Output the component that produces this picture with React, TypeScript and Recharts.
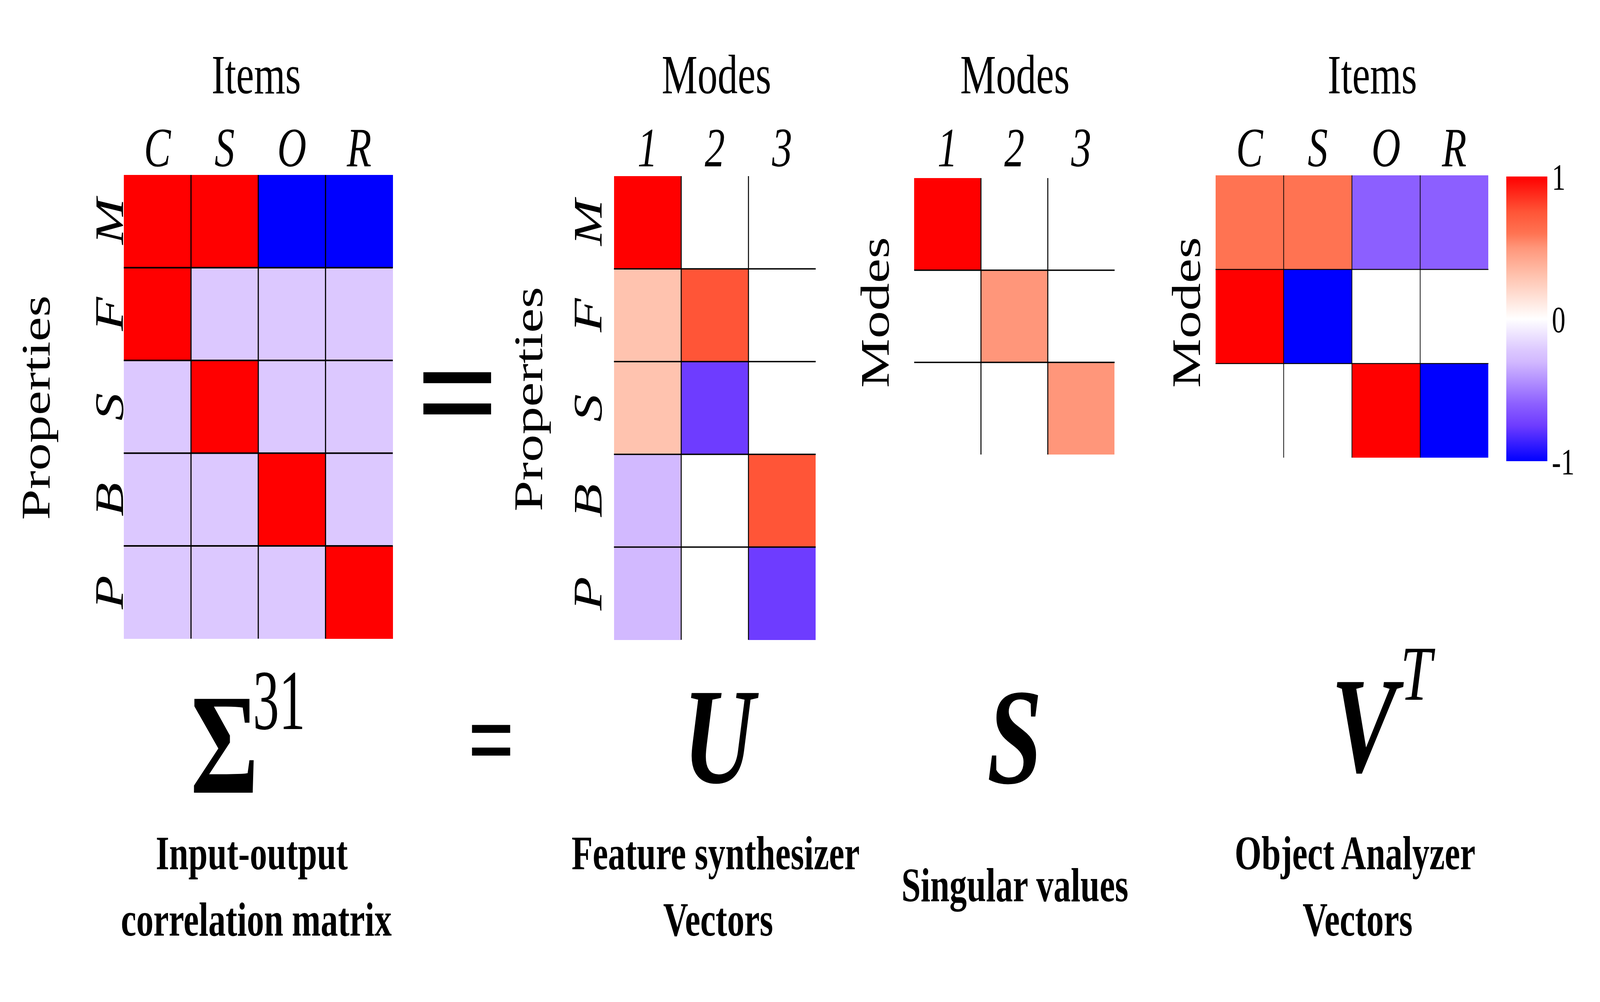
import React from 'react';
import { ScatterChart, Scatter, XAxis, YAxis, BarChart, Bar } from 'recharts';

const FONT = '"Liberation Serif", "Times New Roman", serif';
const W = 5650;
const H = 2566;

// labels
const items = ['C', 'S', 'O', 'R'];
const properties = ['M', 'F', 'S', 'B', 'P'];
const modes = ['1', '2', '3'];

// matrices, rows top to bottom
const sigmaValues = [
  [1, 1, -1, -1],
  [1, -0.22, -0.22, -0.22],
  [-0.22, 1, -0.22, -0.22],
  [-0.22, -0.22, 1, -0.22],
  [-0.22, -0.22, -0.22, 1],
];
const uValues = [
  [1, 0, 0],
  [0.3, 0.75, 0],
  [0.3, -0.75, 0],
  [-0.3, 0, 0.75],
  [-0.3, 0, -0.75],
];
const sValues = [
  [1, 0, 0],
  [0, 0.5, 0],
  [0, 0, 0.5],
];
const vtValues = [
  [0.6, 0.6, -0.6, -0.6],
  [1, -1, 0, 0],
  [0, 0, 1, -1],
];

const colorbarTicks = [-1, 0, 1];
const colorbarData = [{ name: 'scale', range: [-1, 1] }];

// colour scale sampled from the colour bar
const cmapStops = [-1, -0.75, -0.6, -0.3, -0.22, 0, 0.3, 0.5, 0.6, 0.75, 1];
const cmapColors = ['#0000FF', '#6E3CFF', '#8C5FFF', '#D2B9FF', '#DCC8FF', '#FFFFFF', '#FFC3AF', '#FF967A', '#FF7352', '#FF5537', '#FF0000'];

const hex = (c: string) => [1, 3, 5].map(i => parseInt(c.slice(i, i + 2), 16));

function colorOf(v: number) {
  for (let i = 0; i < cmapStops.length - 1; i++) {
    const a = cmapStops[i], b = cmapStops[i + 1];
    if (v >= a && v <= b) {
      const t = (v - a) / (b - a);
      const ca = hex(cmapColors[i]), cb = hex(cmapColors[i + 1]);
      const m = ca.map((x, k) => Math.round(x + (cb[k] - x) * t));
      return `rgb(${m[0]},${m[1]},${m[2]})`;
    }
  }
  return v < 0 ? cmapColors[0] : cmapColors[cmapColors.length - 1];
}

interface HeatProps {
  values: number[][];
  colLabels: string[];
  rowLabels?: string[];
  left: number;
  top: number;
  cell: number;
  lineW: number;
  rowGap?: number;
}

const LABEL_BASE = 426;

function Heatmap({ values, colLabels, rowLabels, left, top, cell, lineW, rowGap = 0 }: HeatProps) {
  const nR = values.length;
  const nC = colLabels.length;
  const plotW = cell * nC;
  const plotH = cell * nR;
  const axisTop = 300;
  const axisLeft = rowLabels ? 250 : 0;
  const pad = 10;
  const data = values.flatMap((r, i) => r.map((v, j) => ({ x: j + 0.5, y: i + 0.5, v, r: i, c: j })));
  const colTicks = colLabels.map((_, j) => j + 0.5);
  const rowTicks = values.map((_, i) => i + 0.5);

  const RowTick = (p: any) => {
    const { x, y, payload } = p;
    return (
      <text x={x} y={y} transform={`rotate(-90, ${x}, ${y})`} textAnchor="middle"
        fontStyle="italic" fontSize={142} fontFamily={FONT} fill="#000">
        {rowLabels ? rowLabels[Math.floor(payload.value)] : ''}
      </text>
    );
  };

  return (
    <div style={{ position: 'absolute', left: left - axisLeft, top: top - axisTop }}>
      <ScatterChart width={axisLeft + plotW + pad} height={axisTop + plotH + pad}
        margin={{ top: 0, right: pad, bottom: pad, left: 0 }}>
        <XAxis type="number" dataKey="x" orientation="top" height={axisTop} domain={[0, nC]}
          ticks={colTicks} interval={0} tickFormatter={(t: number) => colLabels[Math.floor(t)]}
          axisLine={false} tickLine={false} tickSize={0} tickMargin={top - LABEL_BASE}
          tick={{ fontSize: 142, fontStyle: 'italic', fill: '#000', fontFamily: FONT }} />
        <YAxis type="number" dataKey="y" reversed domain={[0, nR]} ticks={rowTicks} interval={0}
          hide={!rowLabels} width={axisLeft} axisLine={false} tickLine={false} tickSize={0}
          tickMargin={rowGap} tick={<RowTick />} />
        <Scatter data={data} isAnimationActive={false}
          shape={(p: any) => (
            <rect x={p.cx - cell / 2} y={p.cy - cell / 2} width={cell} height={cell}
              fill={colorOf(p.payload.v)} shapeRendering="crispEdges" />
          )} />
        {/* cell borders on the inner edges only, drawn over the cells */}
        <Scatter data={data} isAnimationActive={false}
          shape={(p: any) => {
            const x0 = p.cx - cell / 2, y0 = p.cy - cell / 2;
            return (
              <g>
                {p.payload.c > 0 && (
                  <line x1={x0} y1={y0} x2={x0} y2={y0 + cell} stroke="#000" strokeWidth={lineW} />
                )}
                {p.payload.r > 0 && (
                  <line x1={x0} y1={y0} x2={x0 + cell} y2={y0} stroke="#000" strokeWidth={lineW} />
                )}
              </g>
            );
          }} />
      </ScatterChart>
    </div>
  );
}

function ColorBar() {
  const left = 5319, top = 452, w = 145, h = 729, m = 80;
  return (
    <div style={{ position: 'absolute', left, top: top - m }}>
      <BarChart width={w + 160} height={h + 2 * m} data={colorbarData} barCategoryGap={0}
        margin={{ top: m, right: 0, bottom: m, left: 0 }}>
        <defs>
          <linearGradient id="cbGrad" x1="0" y1="0" x2="0" y2="1">
            {cmapStops.map((s, i) => (
              <stop key={i} offset={`${((1 - s) / 2) * 100}%`} stopColor={cmapColors[i]} />
            )).reverse()}
          </linearGradient>
        </defs>
        <XAxis dataKey="name" hide />
        <YAxis orientation="right" domain={[-1, 1]} ticks={colorbarTicks} width={160}
          axisLine={false} tickLine={false} tickSize={0} tickMargin={16}
          tick={{ fontSize: 96, fill: '#000', fontFamily: FONT }} />
        <Bar dataKey="range" fill="url(#cbGrad)" isAnimationActive={false} />
      </BarChart>
    </div>
  );
}

const T = (props: any) => <text fontFamily={FONT} fill="#000" {...props} />;

export default function App() {
  // the window may be narrower than asked for; fit the figure to the real viewport
  const vw = typeof document !== 'undefined' ? document.documentElement.clientWidth || window.innerWidth : W;
  const vh = typeof window !== 'undefined' ? window.innerHeight || H : H;
  const sx = Math.min(1, vw / W);
  const sy = Math.min(1, vh / H);

  return (
    <div style={{ position: 'absolute', left: 0, top: 0, width: W * sx, height: H * sy, overflow: 'hidden', background: '#fff' }}>
      <div style={{ position: 'absolute', left: 0, top: 0, width: W, height: H, background: '#fff', fontFamily: FONT, transform: `scale(${sx}, ${sy})`, transformOrigin: '0 0' }}>
        <Heatmap values={sigmaValues} colLabels={items} rowLabels={properties} left={437} top={448} cell={237.5} lineW={4} rowGap={2} />
        <Heatmap values={uValues} colLabels={modes} rowLabels={properties} left={2168} top={451} cell={237.5} lineW={3.5} rowGap={44} />
        <Heatmap values={sValues} colLabels={modes} left={3228} top={456} cell={236} lineW={3.5} />
        <Heatmap values={vtValues} colLabels={items} left={4292} top={449} cell={241} lineW={2.5} />
        <ColorBar />

        <svg width={W} height={H} style={{ position: 'absolute', left: 0, top: 0, pointerEvents: 'none' }}>
          {/* axis titles */}
          <T x={905} y={239} fontSize={142} textAnchor="middle">Items</T>
          <T x={2530} y={239} fontSize={142} textAnchor="middle">Modes</T>
          <T x={3584} y={239} fontSize={142} textAnchor="middle">Modes</T>
          <T x={4846} y={239} fontSize={142} textAnchor="middle">Items</T>
          <T x={175} y={1044} fontSize={142} textAnchor="middle" transform="rotate(-90, 175, 1044)">Properties</T>
          <T x={1915} y={1022} fontSize={142} textAnchor="middle" transform="rotate(-90, 1915, 1022)">Properties</T>
          <T x={3138} y={800} fontSize={142} textAnchor="middle" transform="rotate(-90, 3138, 800)">Modes</T>
          <T x={4237} y={800} fontSize={142} textAnchor="middle" transform="rotate(-90, 4237, 800)">Modes</T>

          {/* equals between matrices */}
          <T x={1616} y={1140} fontSize={400} fontWeight="bold" textAnchor="middle" textLength={293} lengthAdjust="spacingAndGlyphs">=</T>

          {/* formula row */}
          <T x={673} y={2030} fontSize={367} fontWeight="bold">Σ</T>
          <T x={893} y={1867} fontSize={218} textLength={185} lengthAdjust="spacingAndGlyphs">31</T>
          <T x={1735} y={1992} fontSize={290} fontWeight="bold" textAnchor="middle">=</T>
          <T x={2538} y={2004} fontSize={350} fontWeight="bold" fontStyle="italic" textAnchor="middle">U</T>
          <T x={3583} y={2005} fontSize={350} fontWeight="bold" fontStyle="italic" textAnchor="middle">S</T>
          <T x={4700} y={1976} fontSize={350} fontWeight="bold" fontStyle="italic">V</T>
          <T x={4945} y={1792} fontSize={200} fontStyle="italic">T</T>

          {/* captions */}
          <T x={889} y={2226} fontSize={122} fontWeight="bold" textAnchor="middle">Input-output</T>
          <T x={905} y={2396} fontSize={122} fontWeight="bold" textAnchor="middle">correlation matrix</T>
          <T x={2527} y={2226} fontSize={122} fontWeight="bold" textAnchor="middle">Feature synthesizer</T>
          <T x={2536} y={2396} fontSize={122} fontWeight="bold" textAnchor="middle">Vectors</T>
          <T x={3584} y={2308} fontSize={122} fontWeight="bold" textAnchor="middle">Singular values</T>
          <T x={4785} y={2226} fontSize={122} fontWeight="bold" textAnchor="middle">Object Analyzer</T>
          <T x={4794} y={2396} fontSize={122} fontWeight="bold" textAnchor="middle">Vectors</T>
        </svg>
      </div>
    </div>
  );
}
